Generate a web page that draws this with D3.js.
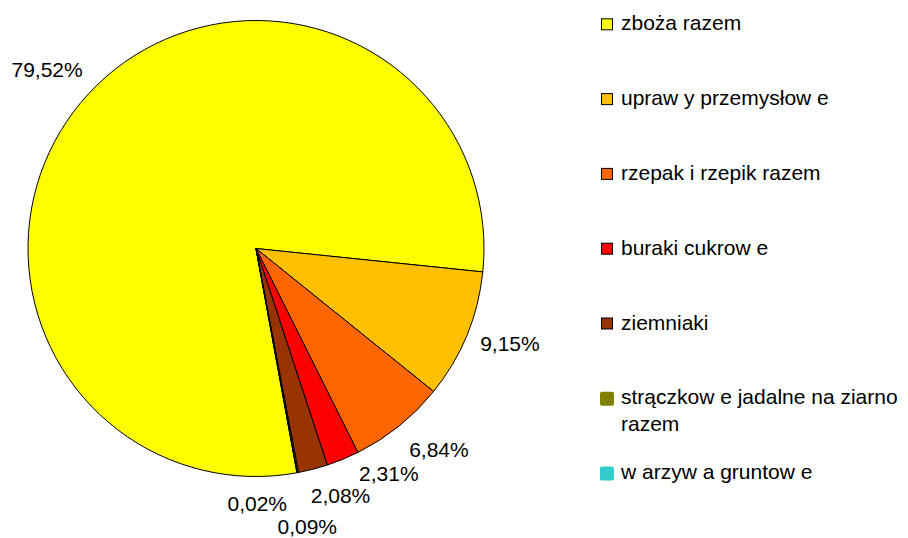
<!DOCTYPE html>
<html>
<head>
<meta charset="utf-8">
<script src="https://cdn.jsdelivr.net/npm/d3@7"></script>
<style>
  html, body { margin: 0; padding: 0; background: #fff; }
  text { font-family: "Liberation Sans", Arial, sans-serif; fill: #000; }
</style>
</head>
<body>
<div id="vis"></div>
<script>
// crop shares (percent of sown area)
const categories = [
  'zboża razem',
  'upraw y przemysłow e',
  'rzepak i rzepik razem',
  'buraki cukrow e',
  'ziemniaki',
  'strączkow e jadalne na ziarno razem',
  'w arzyw a gruntow e'
]
const shares = [79.52, 9.15, 6.84, 2.31, 2.08, 0.09, 0.02]
const labels = ['79,52%', '9,15%', '6,84%', '2,31%', '2,08%', '0,09%', '0,02%']
const colors = ['#ffff00', '#ffc000', '#ff6600', '#ff0000', '#993300', '#808000', '#33cccc']

// label placement (Excel nudges the small ones apart)
const labelShift = [-2.2, -1.9, -3.4, -8.2, -4.4, 0.15, 10.1]
const labelDist = [275, 271, 272, 261, 261, 283, 255]

const w = 908, h = 538
const cx = 256, cy = 248.5, r = 228
const firstAngle = 169.65 * Math.PI / 180

const svg = d3.select('#vis').append('svg')
  .attr('width', w)
  .attr('height', h)

const data = categories.map((c, i) => ({ name: c, value: shares[i], label: labels[i], color: colors[i] }))

const pie = d3.pie()
  .sort(null)
  .value(d => d.value)
  .startAngle(firstAngle)
  .endAngle(firstAngle + 2 * Math.PI)

const arc = d3.arc().innerRadius(0).outerRadius(r)
const arcs = pie(data)

const g = svg.append('g').attr('transform', 'translate(' + cx + ',' + cy + ')')

g.selectAll('path')
  .data(arcs)
  .enter()
  .append('path')
  .attr('d', arc)
  .attr('fill', d => d.data.color)
  .attr('stroke', '#000')
  .attr('stroke-width', 1)
  .attr('stroke-linejoin', 'round')

function labelPos(d, i) {
  const a = (d.startAngle + d.endAngle) / 2 + labelShift[i] * Math.PI / 180
  return [labelDist[i] * Math.sin(a), -labelDist[i] * Math.cos(a)]
}

g.selectAll('text.lbl')
  .data(arcs)
  .enter()
  .append('text')
  .attr('class', 'lbl')
  .attr('text-anchor', 'middle')
  .attr('dy', '0.36em')
  .style('font-size', '21px')
  .attr('x', (d, i) => labelPos(d, i)[0])
  .attr('y', (d, i) => labelPos(d, i)[1])
  .text(d => d.data.label)

// legend
const legY0 = 24.3, legStep = 74.8
const leg = svg.append('g')
const items = leg.selectAll('g')
  .data(data)
  .enter()
  .append('g')
  .attr('transform', (d, i) => 'translate(0,' + (legY0 + i * legStep) + ')')

items.each(function (d, i) {
  const it = d3.select(this)
  if (i < 5) {
    it.append('rect')
      .attr('x', 601.5).attr('y', -5.5)
      .attr('width', 11).attr('height', 11)
      .attr('fill', d.color)
      .attr('stroke', '#000')
      .attr('stroke-width', 1)
  } else {
    it.append('rect')
      .attr('x', 600).attr('y', -6.5)
      .attr('width', 14).attr('height', 14)
      .attr('rx', 2)
      .attr('fill', d.color)
  }
  const t = it.append('text')
    .attr('x', 621)
    .attr('y', 6)
    .style('font-size', '21px')
  if (d.name.startsWith('strączkow')) {
    t.append('tspan').attr('x', 621).text('strączkow e jadalne na ziarno')
    t.append('tspan').attr('x', 621).attr('dy', 27).text('razem')
  } else {
    t.text(d.name)
  }
})
</script>
</body>
</html>
